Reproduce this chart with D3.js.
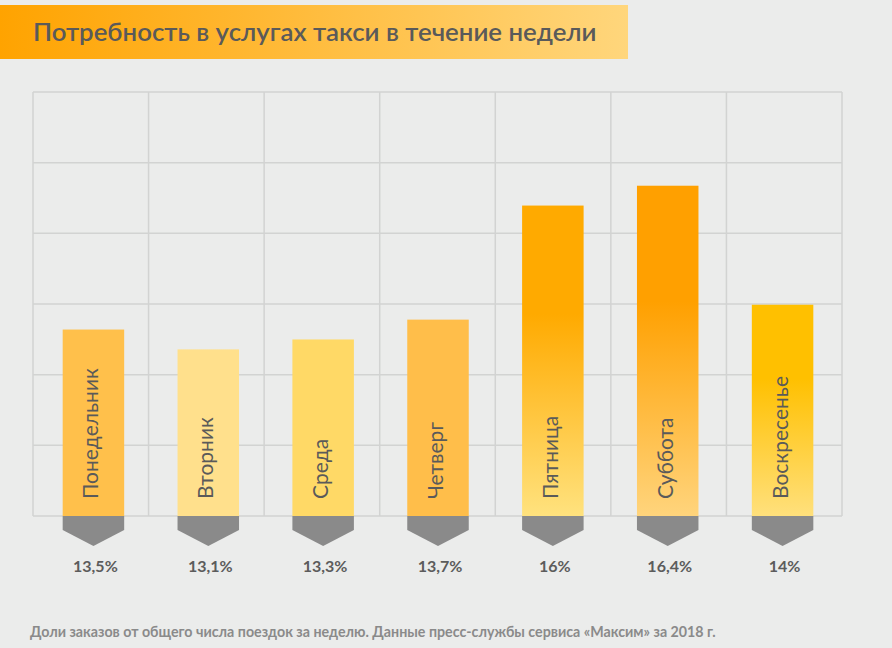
<!DOCTYPE html>
<html>
<head>
<meta charset="utf-8">
<script src="https://cdn.jsdelivr.net/npm/d3@7"></script>
<style>
    html, body { margin: 0; padding: 0; background: #ebeceb; }
    svg { display: block; font-family: Lato, "Open Sans", sans-serif; }
</style>
</head>
<body>
<div id="chart"></div>
<script>
"use strict";

// Days of the week and the share of weekly trips ordered on each one
const days = ['Понедельник', 'Вторник', 'Среда', 'Четверг',
              'Пятница', 'Суббота', 'Воскресенье'];
const shares = [13.5, 13.1, 13.3, 13.7, 16, 16.4, 14];
const shareLabels = ['13,5%', '13,1%', '13,3%', '13,7%', '16%', '16,4%', '14%'];

const title = 'Потребность в услугах такси в течение недели';
const note = 'Доли заказов от общего числа поездок за неделю. ' +
    'Данные пресс-службы сервиса «Максим» за 2018 г.';

// Top and bottom colour of each bar (same colour = flat fill)
const barTop = ['#ffc04b', '#ffe08c', '#ffd966', '#ffbe4a',
                '#ffaa00', '#ffa000', '#ffc000'];
const barBottom = ['#ffc04b', '#ffe08c', '#ffd966', '#ffbe4a',
                   '#ffe27e', '#ffd47c', '#ffe07c'];

const W = 892, H = 648;
const plot = {left: 33, right: 842, top: 92, bottom: 516};

let svg = d3.select('#chart').append('svg')
    .attr('width', W)
    .attr('height', H);

let defs = svg.append('defs');

// Title banner, orange fading to pale yellow
let bannerGrad = defs.append('linearGradient')
    .attr('id', 'banner')
    .attr('x1', '0%').attr('x2', '100%');
bannerGrad.append('stop').attr('offset', '0%').attr('stop-color', '#ffa300');
bannerGrad.append('stop').attr('offset', '100%').attr('stop-color', '#ffd67c');

svg.append('rect')
    .attr('x', 0).attr('y', 5)
    .attr('width', 628).attr('height', 54)
    .attr('fill', 'url(#banner)');

// Shrink or grow a text so it spans the given width
function fitWidth(sel, width) {
    let size = parseFloat(sel.style('font-size'));
    let len = sel.node().getComputedTextLength();
    sel.style('font-size', (size * width / len) + 'px');
}

svg.append('text')
    .attr('x', 33).attr('y', 41)
    .style('font-size', '27px')
    .style('font-weight', 600)
    .style('fill', '#5a5a5a')
    .text(title)
    .call(fitWidth, 564);

// Grid: 7 columns, 6 rows
let gridX = d3.scaleBand()
    .domain(days)
    .range([plot.left, plot.right]);
let gridY = d3.scaleLinear()
    .domain([0, 6])
    .range([plot.bottom, plot.top]);

let grid = svg.append('g')
    .attr('stroke', '#d2d3d2')
    .attr('stroke-width', 1.5);
grid.selectAll('line.h')
  .data(d3.range(7))
  .enter().append('line')
    .attr('x1', plot.left).attr('x2', plot.right)
    .attr('y1', function (d) { return gridY(d); })
    .attr('y2', function (d) { return gridY(d); });
grid.selectAll('line.v')
  .data(days.concat(['end']))
  .enter().append('line')
    .attr('x1', function (d, i) { return plot.left + i * gridX.step(); })
    .attr('x2', function (d, i) { return plot.left + i * gridX.step(); })
    .attr('y1', plot.top).attr('y2', plot.bottom);

// Bars: the original isn't drawn strictly to scale, this is the best fit
let x = d3.scaleBand()
    .domain(days)
    .range([36, 840]);
let y = d3.scaleLinear()
    .domain([9.74, 18.29])
    .range([plot.bottom, plot.top]);
const barWidth = 61.5;

function cx(d) { return x(d) + x.bandwidth() / 2; }

let barGrads = defs.selectAll('linearGradient.bar')
  .data(days)
  .enter().append('linearGradient')
    .attr('id', function (d, i) { return 'bar-' + i; })
    .attr('x1', '0%').attr('y1', '0%')
    .attr('x2', '0%').attr('y2', '100%');
barGrads.append('stop')
    .attr('offset', '0%')
    .attr('stop-color', function (d, i) { return barTop[i]; });
barGrads.append('stop')
    .attr('offset', '35%')
    .attr('stop-color', function (d, i) { return barTop[i]; });
barGrads.append('stop')
    .attr('offset', '100%')
    .attr('stop-color', function (d, i) { return barBottom[i]; });

let bars = svg.append('g');
bars.selectAll('rect')
  .data(days)
  .enter().append('rect')
    .attr('x', function (d) { return cx(d) - barWidth / 2; })
    .attr('y', function (d, i) { return y(shares[i]); })
    .attr('width', barWidth)
    .attr('height', function (d, i) { return y.range()[0] - y(shares[i]); })
    .attr('fill', function (d, i) { return 'url(#bar-' + i + ')'; });

// Day names, read bottom to top inside each bar
bars.selectAll('text')
  .data(days)
  .enter().append('text')
    .attr('transform', function (d) {
        return 'translate(' + (cx(d) + 5) + ',' + (plot.bottom - 17) + ') rotate(-90)';
    })
    .style('font-size', '21px')
    .style('fill', '#5a5a5a')
    .text(function (d) { return d; });

// Grey pointers under the bars
svg.append('g').selectAll('path')
  .data(days)
  .enter().append('path')
    .attr('fill', '#8a8a8a')
    .attr('d', function (d) {
        let l = cx(d) - barWidth / 2, r = cx(d) + barWidth / 2;
        let b = plot.bottom;
        return 'M' + l + ',' + b + 'H' + r + 'V' + (b + 14) +
            'L' + cx(d) + ',' + (b + 30) + 'L' + l + ',' + (b + 14) + 'Z';
    });

svg.append('g').selectAll('text')
  .data(days)
  .enter().append('text')
    .attr('x', function (d) { return cx(d) + 2; })
    .attr('y', 572)
    .attr('text-anchor', 'middle')
    .style('font-size', '16px')
    .style('font-weight', 700)
    .style('fill', '#5c5c5c')
    .text(function (d, i) { return shareLabels[i]; });

svg.append('text')
    .attr('x', 30).attr('y', 637)
    .style('font-size', '12.5px')
    .style('font-weight', 700)
    .style('fill', '#8a8a8a')
    .text(note)
    .call(fitWidth, 686);
</script>
</body>
</html>
